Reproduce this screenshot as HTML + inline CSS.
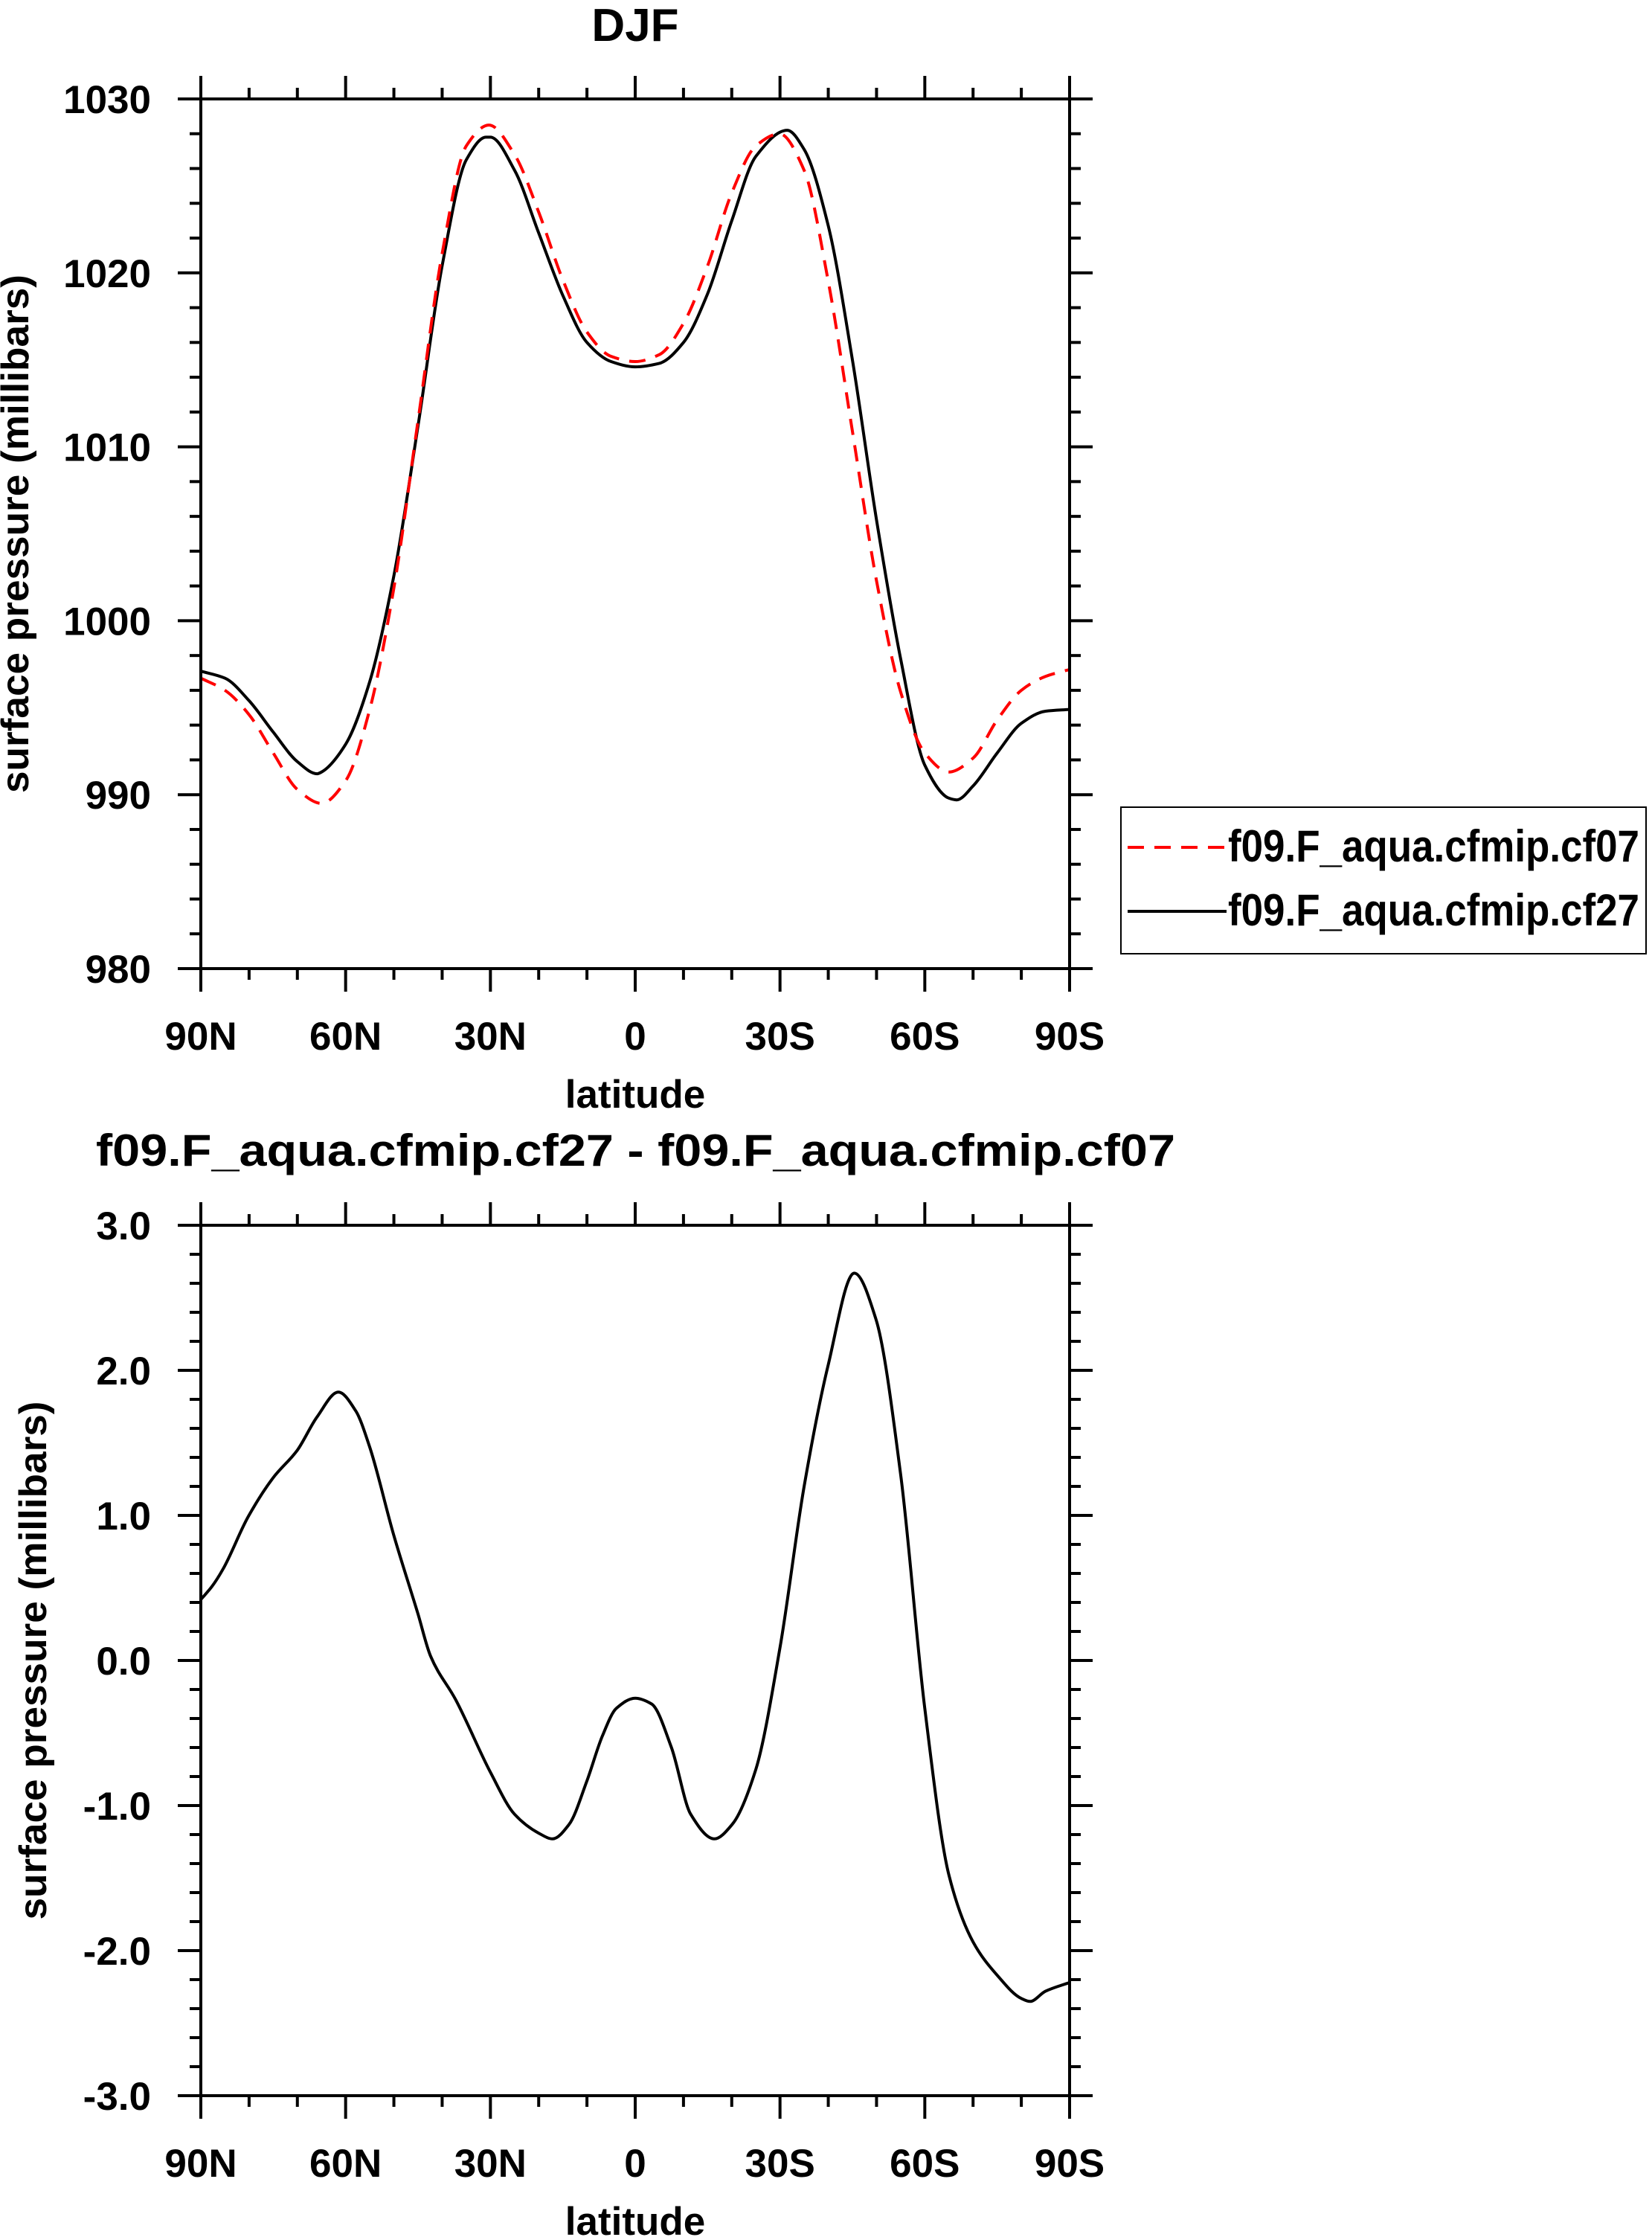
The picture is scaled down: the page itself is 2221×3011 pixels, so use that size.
<!DOCTYPE html>
<html><head><meta charset="utf-8"><style>
html,body{margin:0;padding:0;background:#fff;}
svg{display:block;font-family:"Liberation Sans",Arial,sans-serif;font-weight:bold;}
</style></head><body>
<svg id="chart" width="2221" height="3011" viewBox="0 0 2221 3011" xmlns="http://www.w3.org/2000/svg">
<rect width="2221" height="3011" fill="#fff"/>
<text x="854" y="55" font-size="62" text-anchor="middle">DJF</text>
<text x="129" y="1567" font-size="60" textLength="1451" lengthAdjust="spacingAndGlyphs">f09.F_aqua.cfmip.cf27 - f09.F_aqua.cfmip.cf07</text>
<g id="top"></g>
<g id="bot"></g>
<g>
<rect x="1507" y="1085" width="706" height="197" fill="none" stroke="#000" stroke-width="2"/>
<line x1="1516" y1="1139" x2="1649" y2="1139" stroke="#f00" stroke-width="4" stroke-dasharray="22,14"/>
<text x="1651" y="1158" font-size="60" textLength="553" lengthAdjust="spacingAndGlyphs">f09.F_aqua.cfmip.cf07</text>
<line x1="1516" y1="1225" x2="1649" y2="1225" stroke="#000" stroke-width="4"/>
<text x="1651" y="1244" font-size="60" textLength="553" lengthAdjust="spacingAndGlyphs">f09.F_aqua.cfmip.cf27</text>
</g>
</svg>
<script>
const lats27 = [90,85,80,75,70,65.9,65,60,55,50,45,40,35,30.9,30,25,20,15,10,5,0,-5,-10,-15,-20,-25,-31.5,-35,-40,-45,-50,-55,-60,-65,-66.6,-70,-75,-80,-85,-90];
const cf27 = [997.1,996.7,995.4,993.6,991.9,991.2,991.3,992.9,996.5,1002.6,1011.2,1020.4,1026.5,1027.8,1027.8,1025.9,1022.3,1018.7,1016.0,1014.9,1014.6,1014.8,1016.0,1018.8,1023.0,1026.7,1028.2,1027.1,1022.7,1015.0,1005.8,997.8,991.7,989.8,989.7,990.5,992.4,994.1,994.8,994.9];
const lats07 = [90,85,80,75,70,65,60,55,50,45,40,35,30.3,25,20,15,10,5,0,-5,-10,-15,-20,-25,-29.9,-35,-40,-45,-50,-55,-60,-65,-70,-75,-80,-85,-90];
const cf07 = [996.7,996.0,994.6,992.4,990.3,989.5,990.8,994.9,1001.9,1011.5,1021.1,1027.3,1028.5,1026.8,1023.5,1019.6,1016.6,1015.2,1014.9,1015.3,1017.1,1020.4,1024.6,1027.3,1028.0,1025.9,1019.5,1010.9,1002.3,995.9,992.4,991.3,992.1,994.3,996.0,996.8,997.2];
const latsDiff = [90,87.7,85.4,80.2,75,70,65.9,61.5,57.9,55,50,45,42.4,37.2,30,25,20,17.1,13.7,10,6.8,3.9,0,-3.4,-7.5,-11.5,-16.4,-20.1,-25,-30,-35,-40,-45.4,-49.9,-55,-60,-65,-70,-75,-80,-81.8,-85,-90];
const diffVals = [0.42,0.51,0.63,0.99,1.26,1.45,1.68,1.85,1.72,1.47,0.86,0.32,0.03,-0.27,-0.77,-1.06,-1.19,-1.23,-1.13,-0.83,-0.52,-0.33,-0.26,-0.30,-0.60,-1.06,-1.23,-1.13,-0.75,0.09,1.20,2.04,2.67,2.35,1.28,-0.33,-1.48,-1.94,-2.17,-2.33,-2.35,-2.28,-2.22];
const xTickVals = [90,60,30,0,-30,-60,-90];
const xTickLabels = ["90N","60N","30N","0","30S","60S","90S"];
const topYTicks = [980,990,1000,1010,1020,1030];
const topYLabels = ["980","990","1000","1010","1020","1030"];
const botYTicks = [-3,-2,-1,0,1,2,3];
const botYLabels = ["-3.0","-2.0","-1.0","0.0","1.0","2.0","3.0"];

const NS="http://www.w3.org/2000/svg";
const L=270,R=1438;
function mk(tag,parent,attrs){const e=document.createElementNS(NS,tag);for(const k in attrs)e.setAttribute(k,attrs[k]);parent.appendChild(e);return e;}
function xs(lat){return L+(90-lat)/180*(R-L);}
function monoPath(pts){
  const n=pts.length,dx=[],m=[],t=[];
  for(let i=0;i<n-1;i++){dx.push(pts[i+1][0]-pts[i][0]);m.push((pts[i+1][1]-pts[i][1])/dx[i]);}
  t[0]=m[0];t[n-1]=m[n-2];
  for(let i=1;i<n-1;i++){
    if(m[i-1]*m[i]<=0)t[i]=0;
    else{const w1=2*dx[i]+dx[i-1],w2=dx[i]+2*dx[i-1];t[i]=(w1+w2)/(w1/m[i-1]+w2/m[i]);}
  }
  let d="M"+pts[0][0].toFixed(1)+","+pts[0][1].toFixed(1);
  for(let i=0;i<n-1;i++){
    const h=dx[i];
    d+="C"+(pts[i][0]+h/3).toFixed(1)+","+(pts[i][1]+t[i]*h/3).toFixed(1)+" "+(pts[i+1][0]-h/3).toFixed(1)+","+(pts[i+1][1]-t[i+1]*h/3).toFixed(1)+" "+pts[i+1][0].toFixed(1)+","+pts[i+1][1].toFixed(1);
  }
  return d;
}
function panel(g,T,B,ymin,ymax,yTicks,yLabels,minorStep,title,series){
  const ys=v=>B-(v-ymin)/(ymax-ymin)*(B-T);
  const cx=(L+R)/2;
  for(let lat=90;lat>=-90;lat-=10){
    const major=lat%30===0,len=major?31:15,x=xs(lat);
    const t1=mk('line',g,{x1:x,y1:B,x2:x,y2:B+len,stroke:'#000','stroke-width':4});
    
    
    const t2=mk('line',g,{x1:x,y1:T,x2:x,y2:T-len,stroke:'#000','stroke-width':4});
    
    
  }
  const nMin=Math.round((ymax-ymin)/minorStep);
  for(let i=0;i<=nMin;i++){
    const v=ymin+i*minorStep,y=ys(v);
    const major=i%5===0,len=major?31:15;
    const a=mk('line',g,{x1:L,y1:y,x2:L-len,y2:y,stroke:'#000','stroke-width':4});
    
    
    const b=mk('line',g,{x1:R,y1:y,x2:R+len,y2:y,stroke:'#000','stroke-width':4});
    
    
  }
  xTickVals.forEach((v,i)=>{
    const t=mk('text',g,{x:xs(v),y:B+109,'font-size':53,'text-anchor':'middle'});
    t.textContent=xTickLabels[i];
    
    
  });
  yTicks.forEach((v,i)=>{
    const t=mk('text',g,{x:203,y:ys(v)+19,'font-size':53,'text-anchor':'end'});
    t.textContent=yLabels[i];
    
    
  });
  const xt=mk('text',g,{x:cx,y:B+187,'font-size':53,'text-anchor':'middle'});
  xt.textContent='latitude';
  
  
  const yc=(T+B)/2;
  const yt=mk('text',g,{x:0,y:0,'font-size':52,'text-anchor':'middle',transform:`translate(${title},${yc}) rotate(-90)`,textLength:697,lengthAdjust:'spacingAndGlyphs'});
  yt.textContent='surface pressure (millibars)';
  
  
  const cp=mk('clipPath',g,{id:'cp'+T});
  mk('rect',cp,{x:L,y:T,width:R-L,height:B-T});
  series.forEach(s=>{
    const pts=s.lats.map((la,i)=>[xs(la),ys(s.vals[i])]);
    const p=mk('path',g,{d:monoPath(pts),fill:'none',stroke:s.color,'stroke-width':4,'clip-path':`url(#cp${T})`});
    if(s.dash)p.setAttribute('stroke-dasharray',s.dash);
    
    
  });
  const fr=mk('rect',g,{x:L,y:T,width:R-L,height:B-T,fill:'none',stroke:'#000','stroke-width':4});
  
  
}
panel(document.getElementById('top'),133,1302,980,1030,topYTicks,topYLabels,2,38,[
  {lats:lats27,vals:cf27,color:'#000',name:'line-cf27'},
  {lats:lats07,vals:cf07,color:'#f00',dash:'22,14',name:'line-cf07'}
]);
panel(document.getElementById('bot'),1647,2817,-3,3,botYTicks,botYLabels,0.2,62,[
  {lats:latsDiff,vals:diffVals,color:'#000',name:'line-difference'}
]);
</script>
</body></html>
